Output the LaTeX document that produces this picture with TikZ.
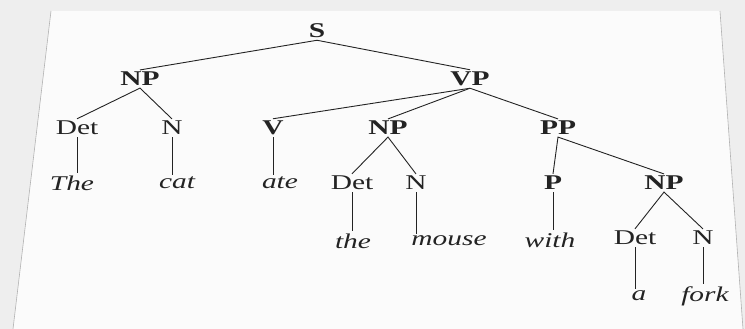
\documentclass[tikz,border=0pt]{standalone}
\usepackage{fontspec}
\setmainfont{Liberation Serif}[FakeStretch=1.4]
\usetikzlibrary{positioning}
\definecolor{deskgray}{RGB}{238,238,238}
\definecolor{paperwhite}{RGB}{251,251,251}
\definecolor{ink}{RGB}{35,35,35}
\tikzset{
  phrase/.style={
    font=\fontsize{21}{22}\selectfont\bfseries,
    text=ink, inner sep=2pt
  },
  tag/.style={
    font=\fontsize{21}{22}\selectfont,
    text=ink, inner sep=2pt
  },
  word/.style={
    font=\fontsize{21}{22}\selectfont\itshape,
    text=ink, inner sep=2pt
  },
  branch/.style={draw=ink, line width=0.9pt}
}

\begin{document}
\begin{tikzpicture}[x=1pt, y=-1pt]

% Desk and paper sheet
\fill[deskgray] (0,0) rectangle (745,329);
\useasboundingbox (0,0) rectangle (745,329);
\fill[paperwhite] (51,11) -- (720,11) -- (743,329) -- (13,329) -- cycle;
\draw[gray!60, line width=0.6pt] (51,11) -- (13,329);
\draw[gray!60, line width=0.6pt] (720,11) -- (743,329);

% Top levels
\node[phrase] (s) at (317,31) {S};
\node[phrase] (np) at (140,79) {NP};
\node[phrase] (vp) at (470,79) {VP};

% Third level
\node[tag] (det1) at (77,128) {Det};
\node[tag] (n1) at (172,128) {N};
\node[phrase] (v) at (273,128) {V};
\node[phrase] (np2) at (388,128) {NP};
\node[phrase] (pp) at (558,128) {PP};

% Fourth level
\node[word] (the) at (72,183) {The};
\node[word] (cat) at (177,183) {cat};
\node[word] (ate) at (280,183) {ate};
\node[tag] (det2) at (352,183) {Det};
\node[tag] (n2) at (416,183) {N};
\node[phrase] (p) at (553,183) {P};
\node[phrase] (np3) at (664,183) {NP};

% Fifth level
\node[word] (the2) at (353,241) {the};
\node[word] (mouse) at (449,241) {mouse};
\node[word] (with) at (550,240) {with};
\node[tag] (det3) at (635,238) {Det};
\node[tag] (n3) at (703,238) {N};

% Bottom level
\node[word] (a) at (639,296) {a};
\node[word] (fork) at (705,296) {fork};

% Branches
\draw[branch] (np.north) -- (s.south) -- (vp.north);
\draw[branch] (det1.north) -- (np.south) -- (n1.north);
\draw[branch] (v.north) -- (vp.south) -- (pp.north);
\draw[branch] (vp.south) -- (np2.north);
\draw[branch] (det2.north) -- (np2.south) -- (n2.north);
\draw[branch] (p.north) -- (pp.south) -- (np3.north);
\draw[branch] (det3.north) -- (np3.south) -- (n3.north);

% Lexical lines
\draw[branch] (det1.south) -- (det1.south |- the.north);
\draw[branch] (n1.south) -- (n1.south |- cat.north);
\draw[branch] (v.south) -- (v.south |- ate.north);
\draw[branch] (det2.south) -- (det2.south |- the2.north);
\draw[branch] (n2.south) -- (n2.south |- mouse.north);
\draw[branch] (p.south) -- (p.south |- with.north);
\draw[branch] (det3.south) -- (det3.south |- a.north);
\draw[branch] (n3.south) -- (n3.south |- fork.north);

\end{tikzpicture}
\end{document}
